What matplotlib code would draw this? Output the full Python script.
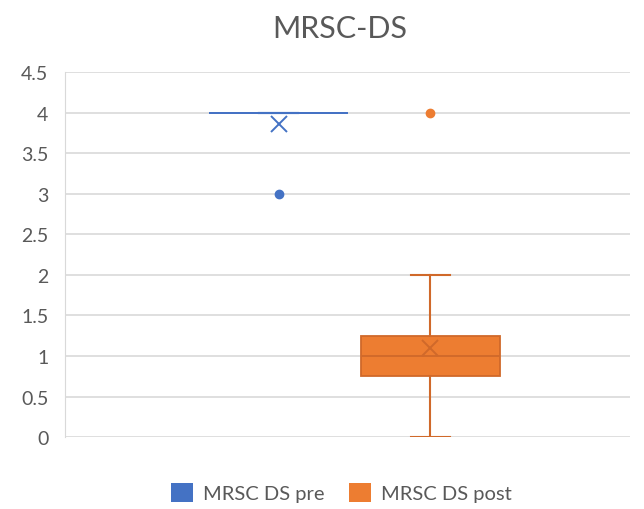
import matplotlib.pyplot as plt

series = ["MRSC DS pre", "MRSC DS post"]
colors = ["#4472C4", "#ED7D31"]
edge_colors = ["#4472C4", "#D0692A"]
q1 = [4, 0.75]
med = [4, 1]
q3 = [4, 1.25]
whislo = [4, 0]
whishi = [4, 2]
means = [3.86, 1.1]
fliers = [[3], [4]]
yticks = [0, 0.5, 1, 1.5, 2, 2.5, 3, 3.5, 4, 4.5]
ytick_labels = ["0", "0.5", "1", "1.5", "2", "2.5", "3", "3.5", "4", "4.5"]

plt.rcParams['font.family'] = ['Lato', 'DejaVu Sans']

fig = plt.figure(figsize=(6.44, 5.10), dpi=100)
ax = fig.add_axes([0.101, 0.141, 0.877, 0.716])

positions = [0.378, 0.647]
for i in range(len(series)):
    stats = [dict(med=med[i], q1=q1[i], q3=q3[i], whislo=whislo[i],
                  whishi=whishi[i], mean=means[i], fliers=fliers[i])]
    ax.bxp(stats, positions=[positions[i]], widths=0.245, patch_artist=True,
           showmeans=True, manage_ticks=False,
           boxprops=dict(facecolor=colors[i], edgecolor=edge_colors[i], linewidth=1.3),
           medianprops=dict(color=edge_colors[i], linewidth=1.3),
           whiskerprops=dict(color=edge_colors[i], linewidth=1.5),
           capprops=dict(color=edge_colors[i], linewidth=1.5),
           capwidths=0.07,
           meanprops=dict(marker='x', markeredgecolor=edge_colors[i],
                          markersize=12, markeredgewidth=1.4),
           flierprops=dict(marker='o', markerfacecolor=colors[i],
                           markeredgecolor=colors[i], markersize=6))
    ax.bar([0], [0], color=colors[i], label=series[i])

ax.set_xlim(0, 1)
ax.set_ylim(0, 4.5)
ax.set_yticks(yticks)
ax.set_yticklabels(ytick_labels)
ax.set_xticks([])
ax.grid(axis='y', color='#D9D9D9', linewidth=1.2)
ax.set_axisbelow(True)
for s in ['top', 'right', 'bottom']:
    ax.spines[s].set_visible(False)
ax.spines['left'].set_color('#D9D9D9')
ax.tick_params(axis='y', length=0, labelsize=14, labelcolor='#595959', pad=12)

fig.suptitle("MRSC-DS", x=0.527, y=0.97, fontsize=22, color='#595959')
fig.legend(loc='center', bbox_to_anchor=(0.53, 0.032), ncol=2, frameon=False,
           fontsize=14.5, labelcolor='#595959', handlelength=1.1, handleheight=1.1,
           handletextpad=0.5, columnspacing=1.2)

fig.savefig("out.png", dpi=100)
